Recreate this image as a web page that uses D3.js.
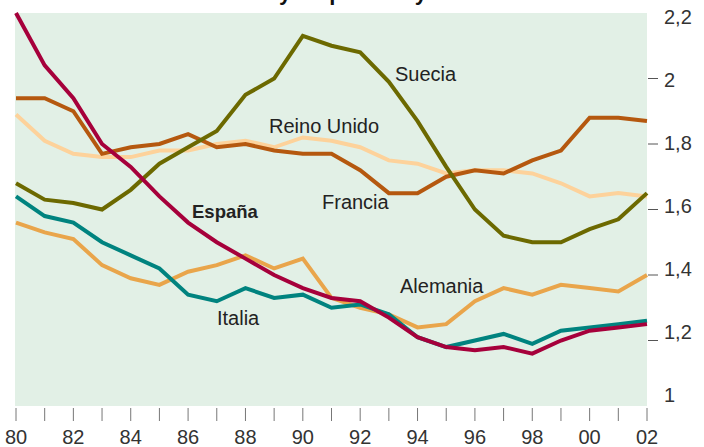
<!DOCTYPE html>
<meta charset="utf-8">
<html>
<head>
  <script src="https://d3js.org/d3.v7.min.js"></script>
  <style>
    body { margin: 0; background: #fff; }
    svg { display: block; }
  </style>
</head>
<body>
  <svg id="svg" width="704" height="447"></svg>
  <script>
    // años (categorias del eje x)
    const years = [1980, 1981, 1982, 1983, 1984, 1985, 1986, 1987, 1988, 1989, 1990, 1991,
                   1992, 1993, 1994, 1995, 1996, 1997, 1998, 1999, 2000, 2001, 2002];

    // hijos por mujer
    const espana   = [2.20, 2.04, 1.94, 1.80, 1.73, 1.64, 1.56, 1.50, 1.45, 1.40, 1.36, 1.33, 1.32, 1.27, 1.21, 1.18, 1.17, 1.18, 1.16, 1.20, 1.23, 1.24, 1.25];
    const italia   = [1.64, 1.58, 1.56, 1.50, 1.46, 1.42, 1.34, 1.32, 1.36, 1.33, 1.34, 1.30, 1.31, 1.28, 1.21, 1.18, 1.20, 1.22, 1.19, 1.23, 1.24, 1.25, 1.26];
    const alemania = [1.56, 1.53, 1.51, 1.43, 1.39, 1.37, 1.41, 1.43, 1.46, 1.42, 1.45, 1.33, 1.30, 1.28, 1.24, 1.25, 1.32, 1.36, 1.34, 1.37, 1.36, 1.35, 1.40];
    const francia  = [1.94, 1.94, 1.90, 1.77, 1.79, 1.80, 1.83, 1.79, 1.80, 1.78, 1.77, 1.77, 1.72, 1.65, 1.65, 1.70, 1.72, 1.71, 1.75, 1.78, 1.88, 1.88, 1.87];
    const reinoUnido = [1.89, 1.81, 1.77, 1.76, 1.76, 1.78, 1.78, 1.80, 1.81, 1.79, 1.82, 1.81, 1.79, 1.75, 1.74, 1.71, 1.72, 1.72, 1.71, 1.68, 1.64, 1.65, 1.64];
    const suecia   = [1.68, 1.63, 1.62, 1.60, 1.66, 1.74, 1.79, 1.84, 1.95, 2.00, 2.13, 2.10, 2.08, 1.99, 1.87, 1.73, 1.60, 1.52, 1.50, 1.50, 1.54, 1.57, 1.65];

    const yTicks = [1, 1.2, 1.4, 1.6, 1.8, 2, 2.2];
    const yTickLabels = ["1", "1,2", "1,4", "1,6", "1,8", "2", "2,2"];
    const xLabelYears = [1980, 1982, 1984, 1986, 1988, 1990, 1992, 1994, 1996, 1998, 2000, 2002];

    const series = [
      {name: "Reino Unido", values: reinoUnido, color: "#fdd29b", lx: 269, ly: 126},
      {name: "Francia", values: francia, color: "#b5580f", lx: 322, ly: 202},
      {name: "Alemania", values: alemania, color: "#e9a54b", lx: 400, ly: 286},
      {name: "Italia", values: italia, color: "#00837f", lx: 217, ly: 318},
      {name: "Suecia", values: suecia, color: "#6c6900", lx: 395, ly: 74},
      {name: "España", values: espana, color: "#a6003b", lx: 192, ly: 211, bold: true}
    ];

    const svg = d3.select("#svg");
    const font = "'Liberation Sans', Arial, sans-serif";

    const x = d3.scaleLinear().domain([1980, 2002]).range([16, 647]);
    const y = d3.scaleLinear().domain([1, 2.2]).range([406, 13]);
    // las etiquetas del eje derecho no van exactamente a la altura de las marcas
    const yLab = d3.scaleLinear().domain([1, 2.2]).range([395, 17]);

    // titulo, cortado por arriba
    const title = svg.append("text")
      .attr("y", 0)
      .attr("font-family", font)
      .attr("font-weight", "bold")
      .attr("font-size", 22)
      .attr("fill", "#111")
      .text("Evolución de la natalidad y de paridad y fecundidad");
    let firstY = title.text().indexOf("y");
    let pre = title.node().getSubStringLength(0, firstY);
    title.attr("x", 279 - pre);

    svg.append("rect")
      .attr("x", x(1980) - 1)
      .attr("y", y(2.2))
      .attr("width", x(2002) - x(1980) + 1)
      .attr("height", y(1) - y(2.2))
      .attr("fill", "#e2f0e6");

    // eje x
    svg.append("g").selectAll("line")
      .data(years)
      .enter().append("line")
      .attr("x1", d => x(d)).attr("x2", d => x(d))
      .attr("y1", 408).attr("y2", 421)
      .attr("stroke", "#777").attr("stroke-width", 1);

    svg.append("g").selectAll("text")
      .data(xLabelYears)
      .enter().append("text")
      .attr("x", d => x(d))
      .attr("y", 444)
      .attr("text-anchor", "middle")
      .attr("font-family", font)
      .attr("font-size", 20)
      .attr("fill", "#333")
      .text(d => String(d).slice(2));

    // eje y (derecha)
    svg.append("g").selectAll("line")
      .data(yTicks.filter(d => d > 1 && d < 2.2))
      .enter().append("line")
      .attr("x1", 648).attr("x2", 658)
      .attr("y1", d => y(d)).attr("y2", d => y(d))
      .attr("stroke", "#555").attr("stroke-width", 1);

    svg.append("g").selectAll("text")
      .data(yTicks)
      .enter().append("text")
      .attr("x", 664)
      .attr("y", d => yLab(d))
      .attr("dy", "0.36em")
      .attr("font-family", font)
      .attr("font-size", 20)
      .attr("fill", "#333")
      .text((d, i) => yTickLabels[i]);

    // lineas
    const line = d3.line()
      .x((d, i) => x(years[i]))
      .y(d => y(d));

    svg.append("g").selectAll("path")
      .data(series)
      .enter().append("path")
      .attr("d", d => line(d.values))
      .attr("fill", "none")
      .attr("stroke", d => d.color)
      .attr("stroke-width", 4);

    svg.append("g").selectAll("text")
      .data(series)
      .enter().append("text")
      .attr("x", d => d.lx)
      .attr("y", d => d.ly)
      .attr("dy", "0.36em")
      .attr("font-family", font)
      .attr("font-size", d => d.bold ? 18.5 : 20)
      .attr("font-weight", d => d.bold ? "bold" : "normal")
      .attr("fill", "#222")
      .text(d => d.name);
  </script>
</body>
</html>
